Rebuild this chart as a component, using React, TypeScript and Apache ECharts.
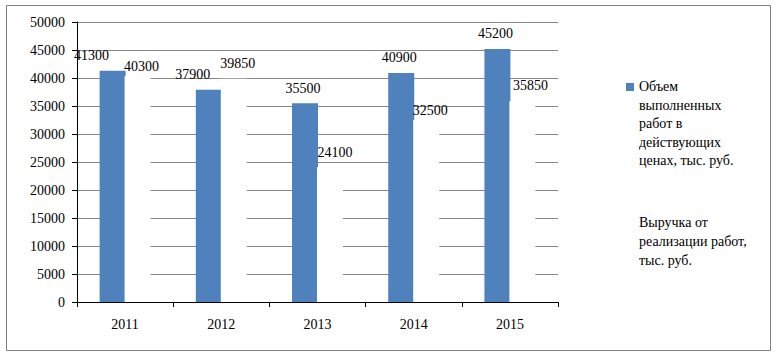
import React, { useEffect, useRef } from "react";
import * as echarts from "echarts";

const categories = ["2011", "2012", "2013", "2014", "2015"];
const volumeValues = [41300, 37900, 35500, 40900, 45200];
const revenueValues = [40300, 39850, 24100, 32500, 35850];
const volumeName = "Объем выполненных работ в действующих ценах, тыс. руб.";
const revenueName = "Выручка от реализации работ, тыс. руб.";
const volumeLegendLines = ["Объем", "выполненных", "работ в", "действующих", "ценах, тыс. руб."];
const revenueLegendLines = ["Выручка от", "реализации работ,", "тыс. руб."];
const volumeLabelOffsets: [number, number][] = [[-21, 0], [-16, 0], [-2, 0], [-2, 0], [-2, 0]];
const revenueLabelOffsets: [number, number][] = [[4, 5], [4, 0], [5, 0], [4, 5], [8, -1]];

const FONT = "Liberation Serif";

export default function App() {
  const ref = useRef<HTMLDivElement>(null);
  useEffect(() => {
    if (!ref.current) return;
    const chart = echarts.init(ref.current, null, { renderer: "svg" });
    const labelBase = {
      show: true,
      position: "top" as const,
      distance: 8,
      color: "#000",
      fontSize: 14,
      fontFamily: FONT,
    };
    chart.setOption({
      animation: false,
      backgroundColor: "#fff",
      textStyle: { fontFamily: FONT },
      grid: { left: 77, right: 220, top: 22, bottom: 55, containLabel: false },
      xAxis: {
        type: "category",
        data: categories,
        axisLine: { lineStyle: { color: "#000", width: 1 } },
        axisTick: { show: true, interval: 0, length: 5, lineStyle: { color: "#000" } },
        axisLabel: { color: "#000", fontSize: 14, fontFamily: FONT, margin: 15 },
      },
      yAxis: {
        type: "value",
        min: 0,
        max: 50000,
        interval: 5000,
        axisLine: { show: true, lineStyle: { color: "#000", width: 1 } },
        axisTick: { show: true, length: 5, lineStyle: { color: "#000" } },
        axisLabel: {
          color: "#000",
          fontSize: 14,
          fontFamily: FONT,
          margin: 12,
          formatter: (v: number) => String(v),
        },
        splitLine: { show: true, lineStyle: { color: "#868686", width: 1 } },
      },
      series: [
        {
          name: volumeName,
          type: "bar",
          barWidth: 26,
          barGap: "-4%",
          itemStyle: { color: "#4F81BD" },
          data: volumeValues.map((v, i) => ({
            value: v,
            label: { ...labelBase, offset: volumeLabelOffsets[i] },
          })),
        },
        {
          name: revenueName,
          type: "bar",
          barWidth: 26,
          itemStyle: { color: "#FFFFFF" },
          data: revenueValues.map((v, i) => ({
            value: v,
            label: { ...labelBase, offset: revenueLabelOffsets[i] },
          })),
        },
      ],
      graphic: [
        {
          type: "rect",
          shape: { x: 6.5, y: 5.5, width: 764, height: 345 },
          style: { fill: "none", stroke: "#808080", lineWidth: 1 },
          silent: true,
        },
        {
          type: "rect",
          shape: { x: 626, y: 83, width: 8, height: 8 },
          style: { fill: "#4F81BD" },
        },
        {
          type: "text",
          x: 639,
          y: 77.5,
          style: {
            text: volumeLegendLines.join("\n"),
            fontSize: 14,
            fontFamily: FONT,
            fill: "#000",
            lineHeight: 18.5,
            verticalAlign: "top",
            align: "left",
          },
        },
        {
          type: "text",
          x: 639,
          y: 213.5,
          style: {
            text: revenueLegendLines.join("\n"),
            fontSize: 14,
            fontFamily: FONT,
            fill: "#000",
            lineHeight: 18.7,
            verticalAlign: "top",
            align: "left",
          },
        },
      ],
    });
    return () => chart.dispose();
  }, []);
  return (
    <div
      ref={ref}
      style={{ position: "absolute", left: 0, top: 0, width: 778, height: 357 }}
    />
  );
}
